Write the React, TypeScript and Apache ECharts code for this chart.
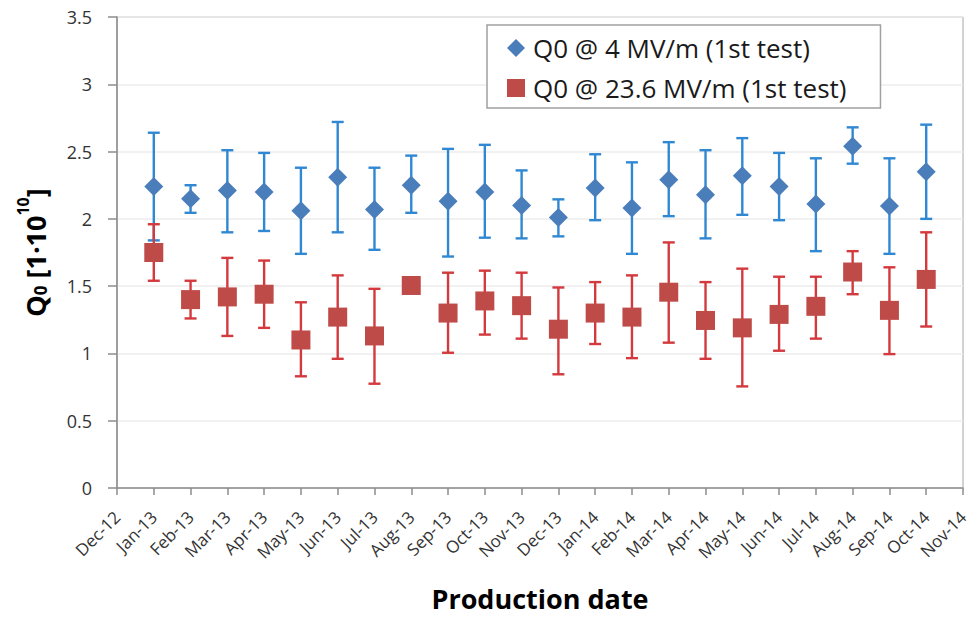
import React, { useEffect, useRef } from "react";
import * as echarts from "echarts";

const categories = [
  "Dec-12", "Jan-13", "Feb-13", "Mar-13", "Apr-13", "May-13", "Jun-13", "Jul-13",
  "Aug-13", "Sep-13", "Oct-13", "Nov-13", "Dec-13", "Jan-14", "Feb-14", "Mar-14",
  "Apr-14", "May-14", "Jun-14", "Jul-14", "Aug-14", "Sep-14", "Oct-14", "Nov-14",
];

// data months: Jan-13 .. Oct-14
const dataMonths = categories.slice(1, 23);

const blueMid = [2.24, 2.15, 2.21, 2.2, 2.06, 2.31, 2.07, 2.25, 2.13, 2.2, 2.1, 2.01, 2.23, 2.08, 2.29, 2.18, 2.32, 2.24, 2.11, 2.54, 2.095, 2.35];
const blueHigh = [2.64, 2.25, 2.51, 2.49, 2.38, 2.72, 2.38, 2.47, 2.52, 2.55, 2.36, 2.145, 2.48, 2.42, 2.57, 2.51, 2.6, 2.49, 2.45, 2.68, 2.45, 2.7];
const blueLow = [1.84, 2.045, 1.9, 1.91, 1.74, 1.9, 1.77, 2.045, 1.72, 1.86, 1.855, 1.87, 1.99, 1.74, 2.02, 1.855, 2.03, 1.99, 1.76, 2.41, 1.74, 2.0];

const redMid = [1.75, 1.4, 1.42, 1.44, 1.1, 1.27, 1.13, 1.505, 1.3, 1.39, 1.355, 1.18, 1.3, 1.27, 1.455, 1.245, 1.19, 1.29, 1.35, 1.605, 1.32, 1.55];
const redHigh = [1.96, 1.54, 1.71, 1.69, 1.38, 1.58, 1.48, null, 1.6, 1.615, 1.6, 1.49, 1.53, 1.58, 1.825, 1.53, 1.63, 1.57, 1.57, 1.76, 1.64, 1.9];
const redLow = [1.54, 1.26, 1.13, 1.19, 0.83, 0.96, 0.775, null, 1.005, 1.14, 1.11, 0.845, 1.07, 0.965, 1.08, 0.96, 0.755, 1.02, 1.11, 1.44, 0.995, 1.2];

const blueName = "Q0 @ 4 MV/m (1st test)";
const redName = "Q0 @ 23.6 MV/m (1st test)";

const FONT = "'Open Sans', 'Noto Sans', sans-serif";
const BLUE = "#4A7EBB";
const RED = "#BE4B48";
const BLUE_ERR = "#3088D3";
const RED_ERR = "#D3393D";

function errData(low: (number | null)[], high: (number | null)[]) {
  const out: number[][] = [];
  dataMonths.forEach((m, i) => {
    const l = low[i];
    const h = high[i];
    if (l == null || h == null) return;
    out.push([categories.indexOf(m), l, h]);
  });
  return out;
}

function makeErrRender(color: string) {
  return (params: any, api: any) => {
    const x = api.value(0);
    const top = api.coord([x, api.value(2)]);
    const bot = api.coord([x, api.value(1)]);
    const hw = 6;
    const style = { stroke: color, lineWidth: 2.4 };
    return {
      type: "group",
      children: [
        { type: "line", shape: { x1: top[0], y1: top[1], x2: bot[0], y2: bot[1] }, style },
        { type: "line", shape: { x1: top[0] - hw, y1: top[1], x2: top[0] + hw, y2: top[1] }, style },
        { type: "line", shape: { x1: bot[0] - hw, y1: bot[1], x2: bot[0] + hw, y2: bot[1] }, style },
      ],
    };
  };
}

export default function App() {
  const ref = useRef<HTMLDivElement>(null);
  useEffect(() => {
    if (!ref.current) return;
    const chart = echarts.init(ref.current, undefined, { renderer: "svg" });
    chart.setOption({
      animation: false,
      backgroundColor: "#ffffff",
      textStyle: { fontFamily: FONT },
      grid: {
        left: 117,
        right: 9,
        top: 17,
        bottom: 131,
        containLabel: false,
        outerBoundsMode: "none",
        show: true,
        borderColor: "#a6a6a6",
        borderWidth: 1,
      },
      legend: {
        orient: "vertical",
        left: 487,
        top: 25,
        padding: [10, 34, 7, 20],
        itemGap: 14,
        itemWidth: 18,
        itemHeight: 18,
        borderColor: "#a0a0a0",
        borderWidth: 1.5,
        backgroundColor: "#ffffff",
        textStyle: { fontFamily: FONT, fontSize: 26, color: "#1a1a1a", padding: [0, 0, 0, 3] },
        data: [
          { name: blueName, icon: "diamond", itemStyle: { color: BLUE } },
          { name: redName, icon: "rect", itemStyle: { color: RED } },
        ],
      },
      xAxis: {
        type: "category",
        data: categories,
        boundaryGap: false,
        name: "Production date",
        nameLocation: "middle",
        nameGap: 97,
        nameTextStyle: { fontFamily: FONT, fontSize: 27, lineHeight: 26, fontWeight: "bold", color: "#000" },
        axisLine: { show: true, lineStyle: { color: "#8c8c8c", width: 1.5 } },
        axisTick: { show: true, interval: 0, length: 7, lineStyle: { color: "#8c8c8c", width: 1.5 } },
        axisLabel: {
          interval: 0,
          rotate: 45,
          fontSize: 17,
          color: "#333",
          margin: 26,
          fontFamily: FONT,
        },
        splitLine: { show: false },
      },
      yAxis: {
        type: "value",
        min: 0,
        max: 3.5,
        interval: 0.5,
        name: "{q|Q}{s|0}{q| [1·10}{p|10}{q|]}",
        nameLocation: "middle",
        nameGap: 68,
        nameRotate: 90,
        nameTextStyle: {
          rich: {
            q: { fontFamily: FONT, fontSize: 27, fontWeight: "bold", color: "#000", verticalAlign: "bottom", lineHeight: 34 },
            s: { fontFamily: FONT, fontSize: 17, fontWeight: "bold", color: "#000", verticalAlign: "bottom", lineHeight: 16 },
            p: { fontFamily: FONT, fontSize: 16, fontWeight: "bold", color: "#000", verticalAlign: "top", lineHeight: 18 },
          },
        },
        axisLine: { show: true, lineStyle: { color: "#8c8c8c", width: 1.5 } },
        axisTick: { show: true, length: 9, lineStyle: { color: "#8c8c8c", width: 1.5 } },
        axisLabel: { fontSize: 18, color: "#333", margin: 25, fontFamily: FONT },
        splitLine: { show: true, lineStyle: { color: "#ececec", width: 1.5 } },
      },
      series: [
        {
          type: "custom",
          name: blueName + " err",
          renderItem: makeErrRender(BLUE_ERR),
          data: errData(blueLow, blueHigh),
          encode: { x: 0, y: [1, 2] },
          z: 2,
          silent: true,
        },
        {
          type: "custom",
          name: redName + " err",
          renderItem: makeErrRender(RED_ERR),
          data: errData(redLow, redHigh),
          encode: { x: 0, y: [1, 2] },
          z: 2,
          silent: true,
        },
        {
          type: "scatter",
          name: blueName,
          symbol: "diamond",
          symbolSize: [19, 19],
          itemStyle: { color: BLUE, opacity: 1 },
          data: dataMonths.map((m, i) => [m, blueMid[i]]),
          z: 3,
        },
        {
          type: "scatter",
          name: redName,
          symbol: "rect",
          symbolSize: [19, 19],
          itemStyle: { color: RED, opacity: 1 },
          data: dataMonths.map((m, i) => [m, redMid[i]]),
          z: 3,
        },
      ],
    });
    return () => chart.dispose();
  }, []);
  return (
    <div
      ref={ref}
      style={{ position: "fixed", left: 0, top: 0, width: 972, height: 619, background: "#fff" }}
    />
  );
}
